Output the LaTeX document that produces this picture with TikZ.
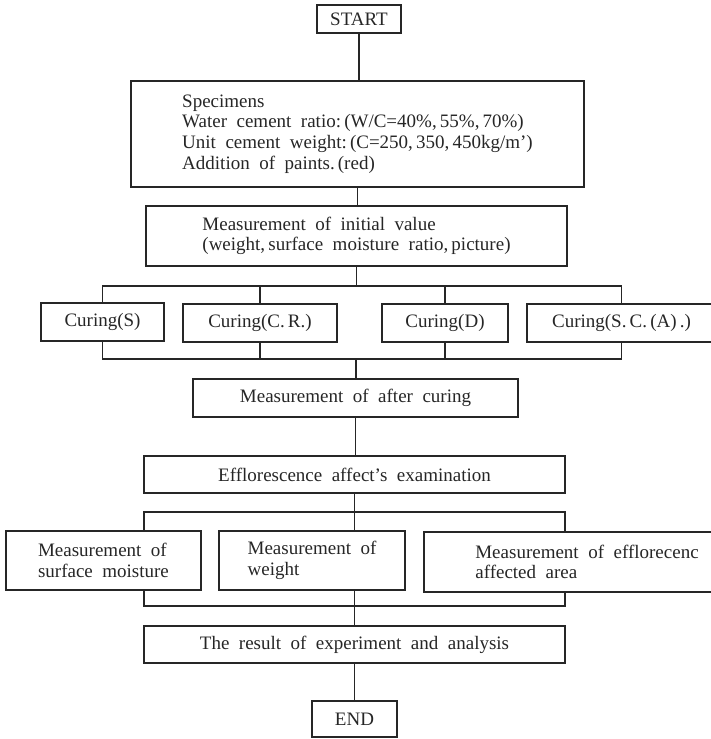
\documentclass[tikz,border=0pt]{standalone}
\usepackage{fontspec}
\setmainfont[WordSpace=2]{Liberation Serif}
\usetikzlibrary{positioning,calc}
\tikzset{box/.style={draw=black!85, line width=0.7pt, rectangle, inner sep=0pt, align=center, text=black!85},
	link/.style={draw=black!85, line width=0.7pt}}

\begin{document}
\begin{tikzpicture}[x=0.5pt,y=-0.5pt]
                    \useasboundingbox (0,0) rectangle (711,739);
                    \clip (0,0) rectangle (711,739);
                    {\fontsize{9.5}{10.3}\selectfont
                    
                    % Drawing box start
                    \node [box, minimum width=42pt, minimum height=14pt] (start) at (359,19) {START};%
                    
                    % Drawing box specimens
                    \node [box, align=left, minimum width=226.5pt, minimum height=53pt] (spec) at (357.5,134)
                      {Specimens\\Water cement ratio:\,(W/C=40\%,\,55\%,\,70\%)\\Unit cement weight:\,(C=250,\,350,\,450kg/m’)\\Addition of paints.\,(red)};%
                    
                    % Drawing box initial value
                    \node [box, align=left, minimum width=210.5pt, minimum height=30pt] (init) at (356.5,236)
                      {Measurement of initial value\\(weight,\,surface moisture ratio,\,picture)};%
                    
                    % Drawing curing boxes
                    \node [box, minimum width=61.5pt, minimum height=19pt] (cS) at (102.5,322) {Curing(S)};%
                    \node [box, minimum width=77pt, minimum height=19pt] (cCR) at (260,323) {Curing(C.\,R.)};%
                    \node [box, minimum width=63pt, minimum height=19pt] (cD) at (445,323) {Curing(D)};%
                    \node [box, minimum width=94.5pt, minimum height=19pt] (cSCA) at (621.5,323) {Curing(S.\,C.\,(A)\,.)};%
                    
                    % Drawing box after curing
                    \node [box, minimum width=162.5pt, minimum height=19pt] (after) at (355.5,398) {Measurement of after curing};%
                    
                    % Drawing box examination
                    \node [box, minimum width=210.5pt, minimum height=18.5pt] (effl) at (354.5,474.5) {Efflorescence affect’s examination};%
                    
                    % Drawing measurement boxes
                    \node [box, align=left, minimum width=97.5pt, minimum height=29.5pt] (mSurf) at (103.5,560.5) {Measurement of\\surface moisture};%
                    \node [box, align=left, minimum width=93pt, minimum height=29.5pt] (mWeight) at (312,560.5) {Measurement of\\weight};%
                    \node [box, align=left, minimum width=163pt, minimum height=30pt] (mArea) at (587,562) {Measurement of efflorecenc\\affected area};%
                    
                    % Drawing box result
                    \node [box, minimum width=210.5pt, minimum height=18.5pt] (result) at (354.5,644.5) {The result of experiment and analysis};%
                    
                    % Drawing box end
                    \node [box, minimum width=42.5pt, minimum height=18pt] (end) at (354.5,719) {END};%
                    
                    % Bus coordinates
                    \coordinate (busA) at (356,286);%
                    \coordinate (busB) at (356,359);%
                    \coordinate (busCL) at (144,512);%
                    \coordinate (busCR) at (565,512);%
                    \coordinate (busDL) at (144,606);%
                    \coordinate (busDR) at (565,606);%
                    
                    % Drawing link start spec
                    \draw [link] (start.south) -- (start.south |- spec.north);%
                    
                    % Drawing link spec init
                    \draw [link] (init.north -| spec.south) -- (spec.south);%
                    
                    % Drawing link init curing
                    \draw [link] (init.south) -- (init.south |- busA);%
                    \draw [link] (cS.north) -- (cS.north |- busA) -- (cSCA.north |- busA) -- (cSCA.north);%
                    \draw [link] (cCR.north) -- (cCR.north |- busA);%
                    \draw [link] (cD.north) -- (cD.north |- busA);%
                    
                    % Drawing link curing after
                    \draw [link] (cS.south) -- (cS.south |- busB) -- (cSCA.south |- busB) -- (cSCA.south);%
                    \draw [link] (cCR.south) -- (cCR.south |- busB);%
                    \draw [link] (cD.south) -- (cD.south |- busB);%
                    \draw [link] (busB) -- (busB |- after.north);%
                    
                    % Drawing link after effl
                    \draw [link] (after.south) -- (after.south |- effl.north);%
                    
                    % Drawing link effl measurement
                    \draw [link] (effl.south) -- (effl.south |- mWeight.north);%
                    \draw [link] (busCL |- mSurf.north) -- (busCL) -- (busCR) -- (busCR |- mArea.north);%
                    
                    % Drawing link measurement result
                    \draw [link] (result.north |- mWeight.south) -- (result.north);%
                    \draw [link] (busDL |- mSurf.south) -- (busDL) -- (busDR) -- (busDR |- mArea.south);%
                    
                    % Drawing link result end
                    \draw [link] (result.south) -- (end.north);%
                    }
\end{tikzpicture}
\end{document}
